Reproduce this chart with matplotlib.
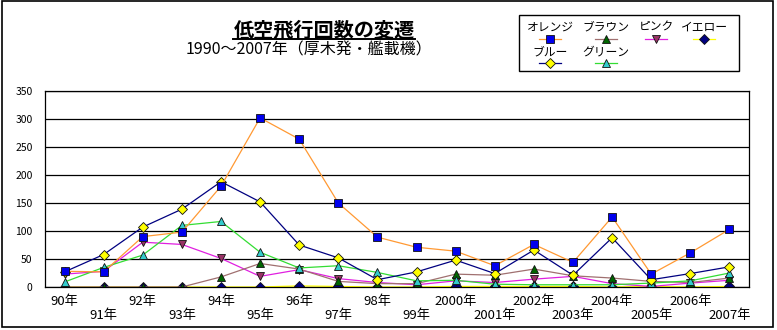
"""低空飛行回数の変遷 (1990-2007, 厚木発・艦載機) as an Excel-style line chart."""

import matplotlib

matplotlib.use("Agg")
import matplotlib.pyplot as plt
from matplotlib.lines import Line2D
from matplotlib.patches import Rectangle

plt.rcParams["font.family"] = ["Noto Sans CJK JP", "DejaVu Sans"]

W, H = 777, 330

years = ["90年", "91年", "92年", "93年", "94年", "95年", "96年", "97年", "98年",
         "99年", "2000年", "2001年", "2002年", "2003年", "2004年", "2005年",
         "2006年", "2007年"]

orange = [28, 27, 90, 98, 180, 302, 264, 150, 89, 71, 64, 38, 76, 44, 125, 23, 61, 103]
blue = [27, 58, 107, 139, 188, 152, 75, 52, 13, 27, 48, 24, 66, 21, 88, 13, 24, 36]
brown = [0, 0, 0, 0, 18, 42, 32, 10, 6, 6, 23, 21, 32, 20, 16, 10, 8, 16]
pink = [23, 28, 80, 76, 51, 19, 31, 15, 8, 4, 11, 8, 14, 19, 6, 1, 7, 12]
yellow = [0, 0, 0, 0, 0, 0, 2, 1, 0, 0, 1, 1, 1, 1, 0, 1, 0, 1]
green = [9, 35, 57, 110, 117, 62, 34, 38, 26, 11, 12, 5, 4, 4, 4, 7, 11, 25]

# name -> (values, line colour, marker, marker face)
series = {
    "イエロー": (yellow, "#FFFF00", "D", "#000080"),
    "ピンク": (pink, "#E020E0", "v", "#993366"),
    "ブラウン": (brown, "#A07070", "^", "#006600"),
    "グリーン": (green, "#33DD33", "^", "#33CCCC"),
    "ブルー": (blue, "#000080", "D", "#FFFF00"),
    "オレンジ": (orange, "#FF9933", "s", "#0000EE"),
}
MSIZE = {"s": 6, "D": 5, "^": 5.5, "v": 5.5}


def px(x, y):
    """Pixel coords (origin top-left) -> figure fraction."""
    return x / W, 1 - y / H


fig = plt.figure(figsize=(W / 100, H / 100), dpi=100)
fig.add_artist(Rectangle(px(2, 327), 771 / W, 326 / H, transform=fig.transFigure,
                         fill=False, edgecolor="black", linewidth=1.2))

left, top = px(45, 91)
right, bottom = px(749, 287)
ax = fig.add_axes([left, bottom, right - left, top - bottom])

x = list(range(len(years)))
for name, (vals, lc, mk, mf) in series.items():
    ax.plot(x, vals, color=lc, linewidth=0.9, marker=mk, markersize=MSIZE[mk],
            markerfacecolor=mf, markeredgecolor="#111111", markeredgewidth=0.6)

ax.set_xlim(-0.5, len(years) - 0.5)
ax.set_ylim(0, 350)
ax.set_yticks(range(0, 351, 50))
ax.yaxis.grid(True, color="black", linewidth=0.9)
ax.set_axisbelow(True)
ax.set_xticks(x)
ax.set_xticklabels([y if i % 2 == 0 else "\n" + y for i, y in enumerate(years)],
                   fontsize=9.5, linespacing=1.1)
ax.tick_params(axis="x", length=0, pad=6)
ax.tick_params(axis="y", length=0, pad=9, labelsize=7.5)
for s in ax.spines.values():
    s.set_color("black")
    s.set_linewidth(0.9)

# title and subtitle
t = fig.text(*px(324, 30), "低空飛行回数の変遷", ha="center", va="center",
             fontsize=14.5, fontweight="bold")
fig.text(*px(309, 50), "1990〜2007年（厚木発・艦載機）", ha="center", va="center",
         fontsize=11.5)
fig.canvas.draw()
bb = t.get_window_extent().transformed(fig.transFigure.inverted())
fig.add_artist(Line2D([bb.x0, bb.x1], [px(0, 38.5)[1]] * 2, transform=fig.transFigure,
                      color="black", linewidth=1.4))

# legend box, Excel style: label above its sample line
fig.add_artist(Rectangle(px(519, 71), 220 / W, 56 / H, transform=fig.transFigure,
                         fill=False, edgecolor="black", linewidth=1.0))
legend_pos = {
    "オレンジ": (550, 27, 39),
    "ブラウン": (606, 27, 39),
    "ピンク": (656, 27, 39),
    "イエロー": (704, 27, 39),
    "ブルー": (550, 52, 63),
    "グリーン": (606, 52, 63),
}
for name, (cx, ty, ly) in legend_pos.items():
    vals, lc, mk, mf = series[name]
    fig.text(*px(cx, ty), name, ha="center", va="center", fontsize=8.5)
    xs = [px(cx - 11, 0)[0], px(cx, 0)[0], px(cx + 11, 0)[0]]
    fig.add_artist(Line2D(xs, [px(0, ly)[1]] * 3, transform=fig.transFigure,
                          color=lc, linewidth=0.9, marker=mk, markevery=[1],
                          markersize=MSIZE[mk], markerfacecolor=mf,
                          markeredgecolor="#111111", markeredgewidth=0.6))

fig.savefig("out.png", dpi=100)
